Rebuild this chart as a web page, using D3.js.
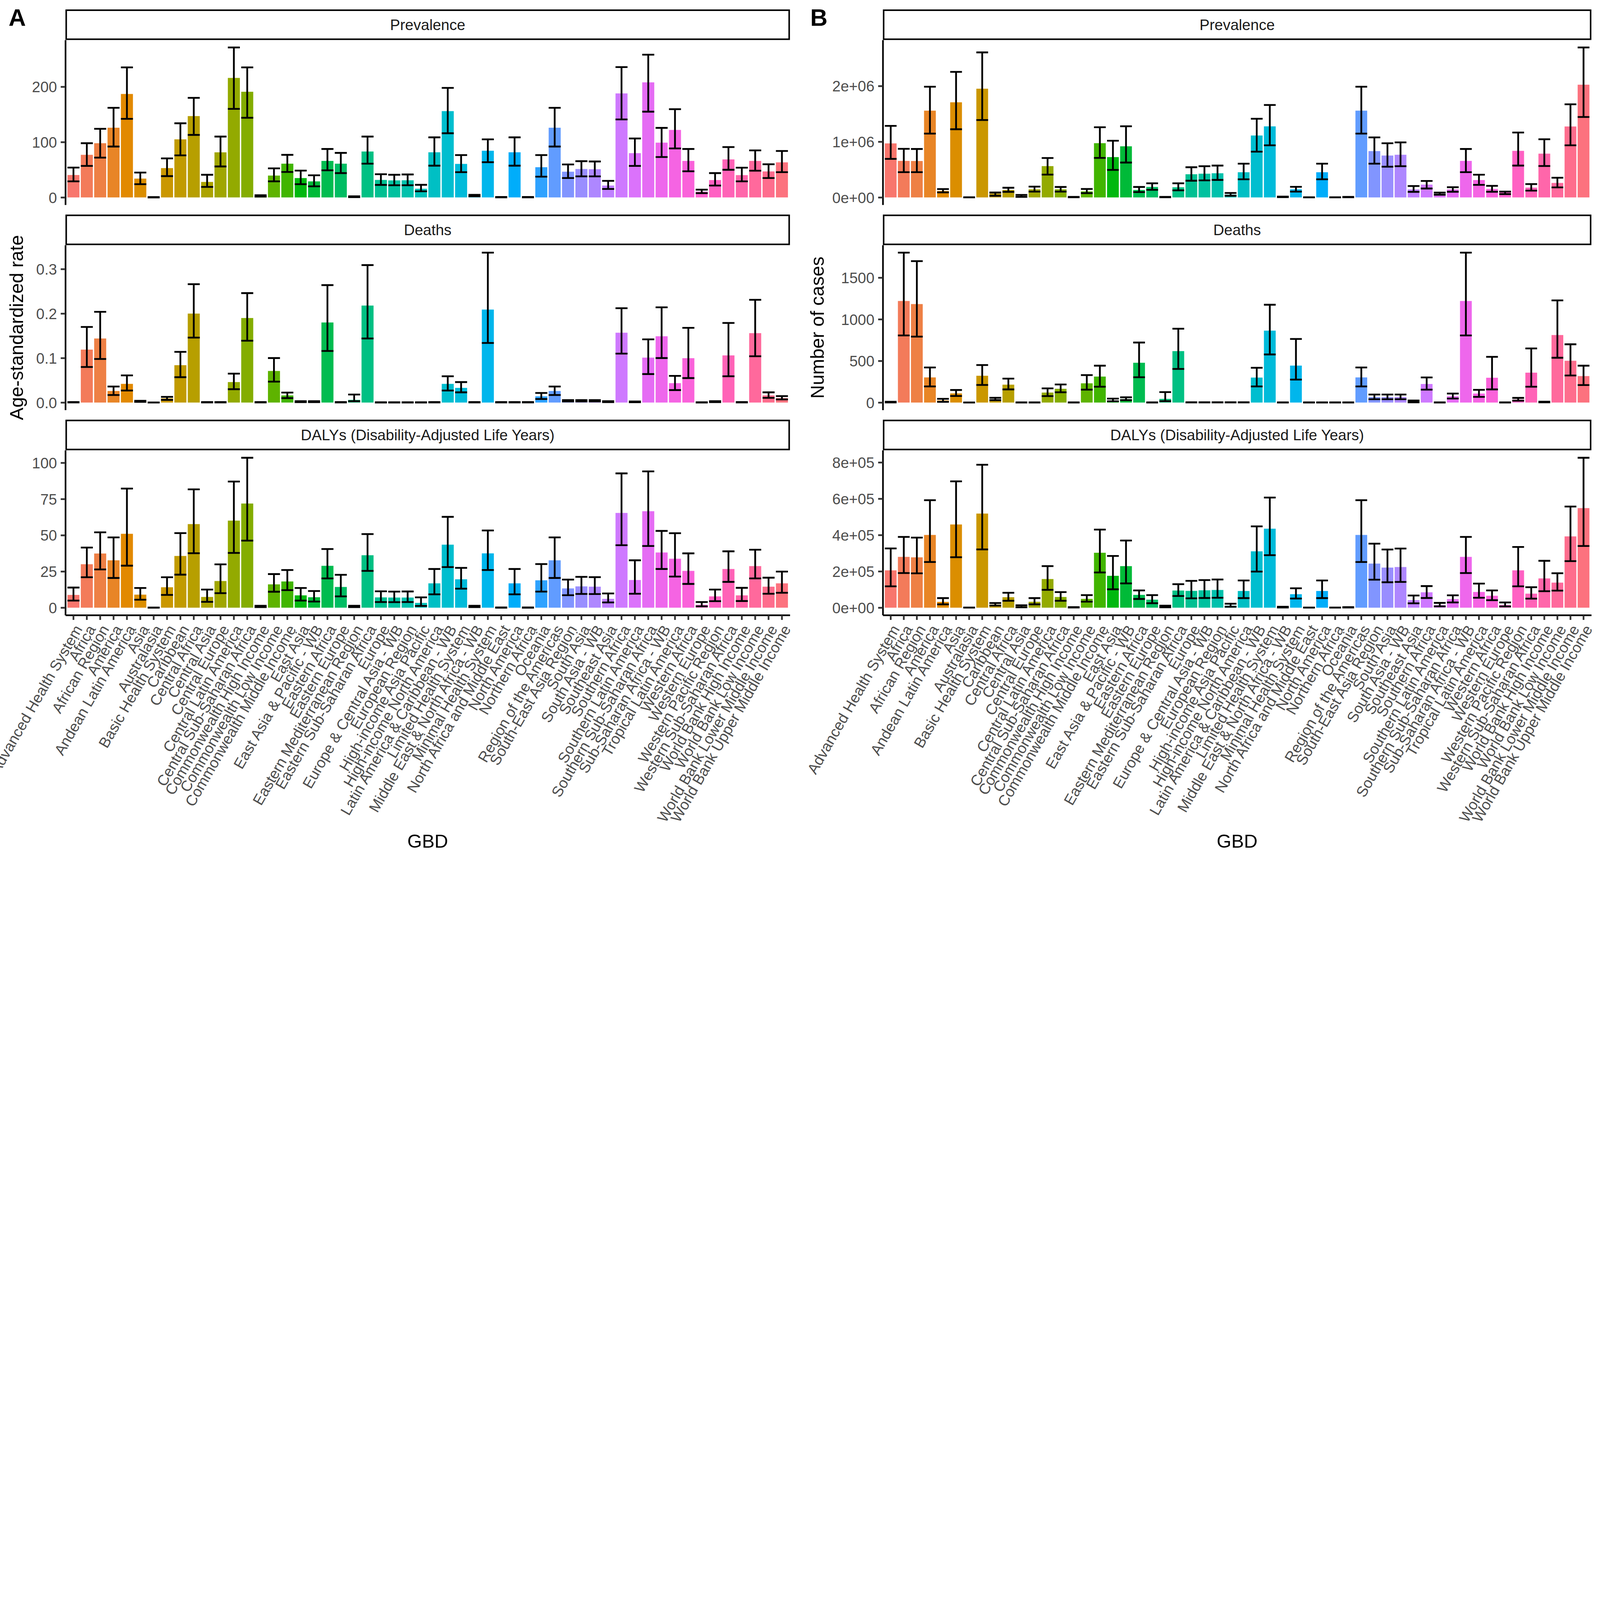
<!DOCTYPE html>
<html><head><meta charset="utf-8">
<script src="https://cdn.jsdelivr.net/npm/d3@7"></script>
<style>html,body{margin:0;padding:0;background:#fff;overflow:hidden;} svg{display:block;}</style>
</head><body>
<script>
const categories = ["Advanced Health System","Africa","African Region","America","Andean Latin America","Asia","Australasia","Basic Health System","Caribbean","Central Africa","Central Asia","Central Europe","Central Latin America","Central Sub-Saharan Africa","Commonwealth High Income","Commonwealth Low Income","Commonwealth Middle Income","East Asia","East Asia & Pacific - WB","Eastern Africa","Eastern Europe","Eastern Mediterranean Region","Eastern Sub-Saharan Africa","Europe","Europe & Central Asia - WB","European Region","High-income Asia Pacific","High-income North America","Latin America & Caribbean - WB","Limited Health System","Middle East & North Africa - WB","Minimal Health System","North Africa and Middle East","North America","Northern Africa","Oceania","Region of the Americas","South-East Asia Region","South Asia","South Asia - WB","Southeast Asia","Southern Africa","Southern Latin America","Southern Sub-Saharan Africa","Sub-Saharan Africa - WB","Tropical Latin America","Western Africa","Western Europe","Western Pacific Region","Western Sub-Saharan Africa","World Bank High Income","World Bank Low Income","World Bank Lower Middle Income","World Bank Upper Middle Income"];

const measures = ["Prevalence","Deaths","DALYs (Disability-Adjusted Life Years)"];

// Panel A: age-standardized rate
const aPrevVal = [40.5,77,98,126,187,34,0,53,105,147,28,81.5,216,191,2.5,39.5,61,35,29,66,61,1,83,31.6,30.8,31,15.7,81.6,156,60.6,3,84.4,0.5,81.6,0.5,54.6,126,46.5,51.4,51,21.5,188,80,208,99,122,66,10.5,31.4,68.7,40.3,66,47,63.4];
const aPrevLo  = [29,57,72,92,142,24,0,38.5,76,113,19,56,160,144,1.5,29,46,24,20,49,44,0.5,61,22.6,22,22,11,57.4,116,45.7,2,63.6,0.2,57.4,0.2,37.5,92,35,38,38,15.3,141,57,155,73,88.6,47.3,7.7,21.5,50,29,48.3,35,45.7];
const aPrevHi  = [54,98,124,162,235,45,0.6,70.5,134,180,41,110,271,235,4,52.5,77,48.5,40,87.6,80.5,2,110,42,41,41.5,22.8,108.6,198,76.5,4.6,105,0.8,108.6,0.8,76.5,162,59.6,65.5,65,30,235.6,106.5,258,125.7,159.5,87.6,14,44,91,53.8,85,60,84];

const aDeathVal = [0.0005,0.119,0.144,0.026,0.042,0.0025,0,0.0095,0.084,0.2,0.0005,0.0005,0.046,0.19,0.0005,0.071,0.016,0.002,0.002,0.18,0.0005,0.006,0.218,0.0003,0.0003,0.0003,0.0003,0.0005,0.042,0.033,0.0005,0.209,0.0005,0.0005,0.0005,0.014,0.026,0.004,0.004,0.004,0.002,0.157,0.0015,0.101,0.149,0.0436,0.0997,0.0003,0.002,0.106,0.0005,0.156,0.016,0.010];
const aDeathLo  = [0.0002,0.080,0.098,0.017,0.027,0.0015,0,0.006,0.057,0.146,0.0002,0.0002,0.030,0.139,0.0002,0.047,0.010,0.001,0.001,0.116,0.0002,0.003,0.144,0.0001,0.0001,0.0001,0.0001,0.0002,0.027,0.023,0.0002,0.134,0.0002,0.0002,0.0002,0.008,0.017,0.0025,0.0025,0.0025,0.001,0.110,0.0008,0.064,0.100,0.028,0.055,0.0001,0.001,0.059,0.0002,0.104,0.0105,0.007];
const aDeathHi  = [0.001,0.170,0.204,0.036,0.061,0.004,0.0003,0.0128,0.114,0.266,0.001,0.001,0.065,0.246,0.001,0.100,0.0225,0.003,0.003,0.264,0.001,0.018,0.309,0.0006,0.0006,0.0006,0.0006,0.001,0.059,0.046,0.001,0.337,0.001,0.001,0.001,0.0215,0.036,0.0055,0.0055,0.0055,0.003,0.212,0.0025,0.142,0.214,0.060,0.168,0.0006,0.003,0.179,0.001,0.231,0.023,0.0145];

const aDalyVal = [8.8,30,37.4,32.7,51,9,0,14.1,35.7,57.7,7.4,18.4,60.1,71.9,0.8,16.1,18.1,8.5,7.2,28.9,14.3,0.8,36.2,7.1,7.0,7.0,3.3,16.8,43.5,19.6,0.8,37.5,0.1,16.8,0.1,18.9,32.7,13.3,14.7,14.5,6.1,65.4,19.1,66.6,38.1,33.8,25.4,2.0,7.8,26.7,8.5,28.7,14.5,16.8];
const aDalyLo  = [4.9,21,26.4,20.5,29,5.5,0,8.8,22.8,37.6,4,10,37.8,46.3,0.4,11,12.1,4.9,4.2,20.2,7.8,0.4,25.4,3.9,3.8,3.9,1.2,9.2,28,13.1,0.4,26,0,9.2,0,11.1,20.5,8.6,9.5,9.4,3.6,43.1,9.6,42.6,26.7,21.5,16.4,0.9,4.5,17.8,4.6,20.2,9.6,10.3];
const aDalyHi  = [13.9,41.5,52,48.5,82.2,13.6,0.1,21,51.5,81.7,12.5,29.9,87.1,103.5,1.3,23.2,26,13.6,11.5,40.5,22.7,1.3,50.8,11.3,11.1,11.2,7.1,26.7,62.7,27.5,1.3,53.3,0.2,26.7,0.2,30.1,48.5,19.4,21.3,21.1,9.8,92.7,32.7,94.1,53,51.4,37.5,3.9,12.5,38.9,13.7,40,20.7,24.9];

// Panel B: number of cases (prevalence read in millions, DALYs in units of 1e5)
const bPrevVal = [0.97,0.656,0.654,1.558,0.116,1.708,0.002,1.952,0.07,0.134,0.025,0.146,0.562,0.146,0.006,0.108,0.974,0.724,0.918,0.134,0.188,0.006,0.182,0.416,0.426,0.434,0.05,0.452,1.112,1.276,0.01,0.146,0.002,0.452,0.002,0.006,1.558,0.832,0.752,0.766,0.144,0.23,0.062,0.144,0.656,0.312,0.152,0.092,0.836,0.176,0.786,0.26,1.274,2.024].map(v => v * 1e6);
const bPrevLo  = [0.692,0.454,0.454,1.146,0.09,1.224,0.001,1.39,0.03,0.1,0.01,0.104,0.41,0.104,0.003,0.076,0.71,0.494,0.626,0.096,0.136,0.003,0.128,0.3,0.306,0.314,0.03,0.326,0.822,0.936,0.005,0.104,0.001,0.326,0.001,0.003,1.146,0.606,0.552,0.56,0.1,0.16,0.048,0.102,0.454,0.226,0.102,0.06,0.572,0.122,0.564,0.18,0.936,1.444].map(v => v * 1e6);
const bPrevHi  = [1.284,0.872,0.87,1.988,0.15,2.254,0.003,2.604,0.088,0.174,0.045,0.194,0.708,0.188,0.009,0.152,1.26,1.018,1.278,0.188,0.254,0.009,0.254,0.542,0.56,0.572,0.08,0.606,1.412,1.66,0.015,0.19,0.003,0.606,0.003,0.009,1.988,1.078,0.972,0.988,0.204,0.296,0.086,0.184,0.87,0.408,0.208,0.104,1.166,0.24,1.044,0.354,1.672,2.692].map(v => v * 1e6);

const bDeathVal = [5,1220,1183,302,25,110,0,322,39,215,1,1,120,165,1,231,312,25,41,478,1,44,618,2,2,2,2,2,300,864,1,444,1,1,1,1,302,66,66,66,10,223,1,75,1220,108,298,1,36,359,7,811,502,318];
const bDeathLo  = [2,806,792,194,8,79,0,211,29,158,0,0,78,123,0,155,190,15,29,304,0,17,404,1,1,1,1,1,194,578,0,276,0,0,0,0,194,40,40,40,3,155,0,48,806,68,158,0,23,190,3,538,325,210];
const bDeathHi  = [9,1801,1699,421,45,151,1,451,57,288,2,2,170,217,2,330,443,47,63,721,2,126,887,3,3,3,3,3,418,1175,2,764,2,2,2,2,421,96,96,96,25,302,2,108,1801,153,549,2,56,650,10,1227,700,443];

const bDalyVal = [2.055,2.798,2.773,4.006,0.319,4.583,0.005,5.184,0.172,0.577,0.07,0.325,1.577,0.589,0.02,0.485,3.025,1.755,2.288,0.706,0.442,0.06,0.945,0.926,0.957,0.975,0.11,0.92,3.104,4.35,0.03,0.742,0.005,0.92,0.005,0.02,4.006,2.429,2.209,2.239,0.417,0.847,0.141,0.472,2.798,0.865,0.656,0.147,2.055,0.773,1.613,1.38,3.926,5.485].map(v => v * 1e5);
const bDalyLo  = [1.178,1.908,1.89,2.515,0.184,2.779,0.002,3.209,0.117,0.38,0.02,0.184,0.982,0.38,0.01,0.331,1.939,1.012,1.337,0.479,0.245,0.02,0.644,0.515,0.534,0.546,0.05,0.528,1.988,2.89,0.01,0.503,0.002,0.528,0.002,0.01,2.515,1.54,1.399,1.417,0.239,0.534,0.074,0.288,1.908,0.546,0.411,0.067,1.178,0.497,0.908,0.939,2.564,3.399].map(v => v * 1e5);
const bDalyHi  = [3.264,3.896,3.859,5.92,0.528,6.957,0.01,7.871,0.258,0.822,0.13,0.528,2.288,0.859,0.03,0.693,4.3,2.847,3.699,0.951,0.693,0.11,1.294,1.479,1.521,1.552,0.22,1.497,4.479,6.067,0.05,1.067,0.01,1.497,0.01,0.03,5.92,3.528,3.202,3.258,0.669,1.19,0.264,0.681,3.896,1.325,0.951,0.288,3.344,1.129,2.583,1.896,5.571,8.258].map(v => v * 1e5);

// Tick values and labels
const aPrevTicks = [0,100,200];            const aPrevTickLabels = ["0","100","200"];
const aDeathTicks = [0,0.1,0.2,0.3];        const aDeathTickLabels = ["0.0","0.1","0.2","0.3"];
const aDalyTicks = [0,25,50,75,100];        const aDalyTickLabels = ["0","25","50","75","100"];
const bPrevTicks = [0,1e6,2e6];             const bPrevTickLabels = ["0e+00","1e+06","2e+06"];
const bDeathTicks = [0,500,1000,1500];      const bDeathTickLabels = ["0","500","1000","1500"];
const bDalyTicks = [0,2e5,4e5,6e5,8e5];     const bDalyTickLabels = ["0e+00","2e+05","4e+05","6e+05","8e+05"];

const panelLetters = ["A","B"];
const yTitles = ["Age-standardized rate","Number of cases"];
const xTitle = "GBD";

// ---------- colours: ggplot2 hue palette (R hcl, polar LUV) ----------
function hclR(h, c, l) {
  const WY = 100, Wu = 0.1978398, Wv = 0.4683363;
  const hr = h * Math.PI / 180;
  const U = c * Math.cos(hr), V = c * Math.sin(hr);
  const Y = WY * (l > 7.999592 ? Math.pow((l + 16) / 116, 3) : l / 903.3);
  const u = U / (13 * l) + Wu, v = V / (13 * l) + Wv;
  const X = 9 * Y * u / (4 * v);
  const Z = -X / 3 - 5 * Y + 3 * Y / v;
  const g = t => t > 0.00304 ? 1.055 * Math.pow(t, 1 / 2.4) - 0.055 : 12.92 * t;
  const cl = t => Math.round(255 * Math.max(0, Math.min(1, t)));
  const R = g((3.240479 * X - 1.537150 * Y - 0.498535 * Z) / WY);
  const G = g((-0.969256 * X + 1.875992 * Y + 0.041556 * Z) / WY);
  const B = g((0.055648 * X - 0.204043 * Y + 1.057311 * Z) / WY);
  return d3.rgb(cl(R), cl(G), cl(B)).formatHex();
}
const nCat = categories.length;
const colors = categories.map((d, i) => hclR(15 + i * 360 / nCat, 100, 65));
const colorScale = d3.scaleOrdinal().domain(categories).range(colors);

// ---------- layout ----------
const W = 7800, H = 4200;
const colX = [[319, 3851], [4304, 7758]];
const rowY = [[195, 999], [1195, 1999], [2195, 2999]];
const stripH = 149;
const FONT = "'Liberation Sans', Arial, Helvetica, sans-serif";
const fsTick = 73.3, fsTitle = 91.7, fsTag = 116.7;

const panels = [
  {col:0,row:0,val:aPrevVal,lo:aPrevLo,hi:aPrevHi,ticks:aPrevTicks,labels:aPrevTickLabels},
  {col:0,row:1,val:aDeathVal,lo:aDeathLo,hi:aDeathHi,ticks:aDeathTicks,labels:aDeathTickLabels},
  {col:0,row:2,val:aDalyVal,lo:aDalyLo,hi:aDalyHi,ticks:aDalyTicks,labels:aDalyTickLabels},
  {col:1,row:0,val:bPrevVal,lo:bPrevLo,hi:bPrevHi,ticks:bPrevTicks,labels:bPrevTickLabels},
  {col:1,row:1,val:bDeathVal,lo:bDeathLo,hi:bDeathHi,ticks:bDeathTicks,labels:bDeathTickLabels},
  {col:1,row:2,val:bDalyVal,lo:bDalyLo,hi:bDalyHi,ticks:bDalyTicks,labels:bDalyTickLabels}
];

// fit the 7800x4200 drawing into whatever window we get
const vw = window.innerWidth || W, vh = window.innerHeight || H;
const fit = Math.min(vw / W, vh / H);

const svg = d3.select("body").append("svg")
  .attr("width", W * fit).attr("height", H * fit)
  .attr("viewBox", `0 0 ${W} ${H}`)
  .attr("preserveAspectRatio", "xMinYMin meet")
  .style("font-family", FONT);
svg.append("rect").attr("width", W).attr("height", H).attr("fill", "#fff");

panels.forEach(p => {
  const [x0, x1] = colX[p.col];
  const [y0, y1] = rowY[p.row];
  const g = svg.append("g");

  const x = d3.scaleBand().domain(categories).range([x0, x1])
    .paddingInner(0.1).paddingOuter(0.15);
  const maxHi = d3.max(p.hi.concat(p.val));
  const y = d3.scaleLinear().domain([-0.05 * maxHi, 1.05 * maxHi]).range([y1, y0]);
  const bw = x.bandwidth();

  const data = categories.map((c, i) => ({c, v: p.val[i], lo: p.lo[i], hi: p.hi[i]}));

  // strip
  const sg = g.append("g");
  sg.append("rect")
    .attr("x", x0 + 3.75).attr("y", y0 - stripH + 3.75)
    .attr("width", x1 - x0 - 7.5).attr("height", stripH - 7.5)
    .attr("fill", "#fff").attr("stroke", "#000").attr("stroke-width", 7.5);
  sg.append("text")
    .attr("x", (x0 + x1) / 2).attr("y", y0 - stripH / 2)
    .attr("dy", "0.35em").attr("text-anchor", "middle")
    .attr("font-size", fsTick).attr("fill", "#1A1A1A")
    .text(measures[p.row]);

  // bars
  g.append("g").selectAll("rect").data(data).join("rect")
    .attr("x", d => x(d.c)).attr("width", bw)
    .attr("y", d => y(Math.max(0, d.v)))
    .attr("height", d => Math.abs(y(0) - y(d.v)))
    .attr("fill", d => colorScale(d.c));

  // error bars
  const eg = g.append("g").attr("stroke", "#000").attr("stroke-width", 8.7).attr("fill", "none");
  eg.selectAll("path").data(data).join("path")
    .attr("d", d => {
      const xl = x(d.c), xr = xl + bw, xm = xl + bw / 2;
      const yl = y(d.lo), yh = y(d.hi);
      return `M${xl},${yh}H${xr}M${xm},${yh}V${yl}M${xl},${yl}H${xr}`;
    });

  // y axis
  const ya = g.append("g").attr("transform", `translate(${x0},0)`)
    .call(d3.axisLeft(y).tickValues(p.ticks).tickFormat((d, i) => p.labels[i])
      .tickSize(23).tickPadding(18).tickSizeOuter(0));
  ya.select(".domain").attr("stroke", "#000").attr("stroke-width", 8);
  ya.selectAll(".tick line").attr("stroke", "#333333").attr("stroke-width", 8.5);
  ya.selectAll(".tick text").attr("font-size", fsTick).attr("fill", "#4D4D4D")
    .attr("font-family", FONT).attr("dy", "0.36em");

  // x axis on bottom row
  if (p.row === 2) {
    const xa = g.append("g").attr("transform", `translate(0,${y1})`)
      .call(d3.axisBottom(x).tickSize(23).tickPadding(18).tickSizeOuter(0));
    xa.select(".domain").attr("stroke", "#000").attr("stroke-width", 8);
    xa.selectAll(".tick line").attr("stroke", "#333333").attr("stroke-width", 8.5);
    xa.selectAll(".tick text")
      .attr("font-size", fsTick).attr("fill", "#4D4D4D").attr("font-family", FONT)
      .attr("x", 0).attr("y", 0).attr("dy", "0.72em")
      .attr("text-anchor", "end")
      .attr("transform", "translate(0,41) rotate(-60)");
  }
});

// axis titles and panel tags
[0, 1].forEach(ci => {
  const [x0, x1] = colX[ci];
  svg.append("text")
    .attr("x", ci === 0 ? 42 : 3950).attr("y", 125)
    .attr("font-size", fsTag).attr("font-weight", "bold").attr("fill", "#000")
    .text(panelLetters[ci]);
  svg.append("text")
    .attr("transform", `translate(${ci === 0 ? 80 : 3984},${(rowY[0][0] + rowY[2][1]) / 2}) rotate(-90)`)
    .attr("text-anchor", "middle").attr("dy", "0.35em")
    .attr("font-size", fsTitle).attr("fill", "#000")
    .text(yTitles[ci]);
  svg.append("text")
    .attr("x", (x0 + x1) / 2).attr("y", 4101)
    .attr("text-anchor", "middle").attr("dy", "0.35em")
    .attr("font-size", fsTitle).attr("fill", "#000")
    .text(xTitle);
});
</script>
</body></html>
